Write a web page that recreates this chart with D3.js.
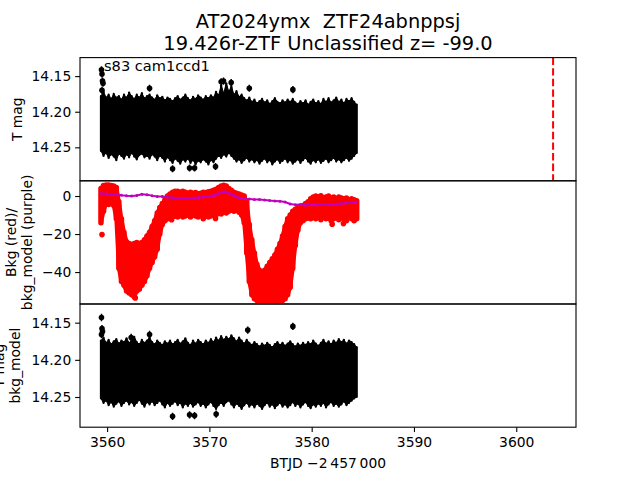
<!DOCTYPE html>
<html><head><meta charset="utf-8">
<script src="https://cdn.jsdelivr.net/npm/d3@7"></script>
<style>
body{margin:0;background:#fff}
svg text{font-family:"DejaVu Sans",sans-serif;fill:#000}
</style>
</head><body>
<svg id="chart" width="640" height="480"></svg>
<script>
// ---------------- DATA ----------------
const titleLines = ["AT2024ymx  ZTF24abnppsj", "19.426r-ZTF Unclassified z= -99.0"];
const sectorLabel = "s83 cam1ccd1";
const xLabel = "BTJD \u22122\u2009457\u2009000";
const xTicks = [3560, 3570, 3580, 3590, 3600];
const magTicks = [14.15, 14.20, 14.25];
const bkgTicks = [0, -20, -40];
const xDomain = [3557.35, 3605.84];
const mag1Domain = [14.124, 14.297];
const bkgDomain = [-56.8, 8.0];
const mag3Domain = [14.1249, 14.2906];
const discoveryTime = 3603.6;

// sampling times of the dense light curve (BTJD)
const tGrid = [3559.40,3559.65,3559.90,3560.15,3560.40,3560.65,3560.90,3561.15,3561.40,3561.65,
3561.90,3562.15,3562.40,3562.65,3562.90,3563.15,3563.40,3563.65,3563.90,3564.15,
3564.40,3564.65,3564.90,3565.15,3565.40,3565.65,3565.90,3566.15,3566.40,3566.65,
3566.90,3567.15,3567.40,3567.65,3567.90,3568.15,3568.40,3568.65,3568.90,3569.15,
3569.40,3569.65,3569.90,3570.15,3570.40,3570.65,3570.90,3571.15,3571.40,3571.65,
3571.90,3572.15,3572.40,3572.65,3572.90,3573.15,3573.40,3573.65,3573.90,3574.15,
3574.40,3574.65,3574.90,3575.15,3575.40,3575.65,3575.90,3576.15,3576.40,3576.65,
3576.90,3577.15,3577.40,3577.65,3577.90,3578.15,3578.40,3578.65,3578.90,3579.15,
3579.40,3579.65,3579.90,3580.15,3580.40,3580.65,3580.90,3581.15,3581.40,3581.65,
3581.90,3582.15,3582.40,3582.65,3582.90,3583.15,3583.40,3583.65,3583.90,3584.15,
3584.40];

// Panel 1: T mag, upper (brightest incl. error) and lower (faintest incl. error) extent
const mag1Top = [14.178,14.172,14.180,14.176,14.182,14.175,14.180,14.178,14.183,14.176,
14.180,14.173,14.178,14.182,14.176,14.180,14.174,14.181,14.178,14.176,
14.180,14.183,14.177,14.181,14.179,14.184,14.180,14.182,14.185,14.181,
14.178,14.183,14.180,14.176,14.181,14.184,14.179,14.182,14.177,14.180,
14.183,14.178,14.181,14.177,14.180,14.172,14.177,14.163,14.174,14.160,
14.172,14.164,14.176,14.171,14.179,14.176,14.181,14.184,14.180,14.186,
14.183,14.188,14.185,14.182,14.187,14.184,14.189,14.185,14.181,14.186,
14.188,14.184,14.187,14.183,14.186,14.182,14.187,14.189,14.185,14.188,
14.184,14.190,14.186,14.183,14.188,14.185,14.189,14.182,14.186,14.181,
14.187,14.184,14.180,14.186,14.183,14.188,14.182,14.185,14.181,14.186,
14.190];
const mag1Bot = [14.255,14.262,14.258,14.265,14.260,14.263,14.268,14.259,14.262,14.266,
14.260,14.264,14.258,14.263,14.267,14.261,14.259,14.264,14.262,14.266,
14.260,14.263,14.268,14.262,14.265,14.270,14.264,14.268,14.272,14.266,
14.269,14.273,14.267,14.270,14.266,14.272,14.268,14.274,14.269,14.271,
14.267,14.270,14.274,14.268,14.271,14.266,14.262,14.265,14.260,14.263,
14.258,14.262,14.266,14.270,14.267,14.272,14.268,14.265,14.270,14.267,
14.271,14.268,14.273,14.269,14.266,14.271,14.268,14.274,14.270,14.267,
14.272,14.269,14.266,14.271,14.268,14.273,14.270,14.267,14.272,14.268,
14.265,14.270,14.273,14.268,14.271,14.267,14.272,14.269,14.266,14.271,
14.268,14.265,14.270,14.267,14.271,14.268,14.265,14.269,14.266,14.262,
14.258];
const out1T = [3559.45,3559.50,3559.55,3559.60,3559.50,3564.15,3571.15,3571.38,3572.13,3573.90,3578.16,3566.40,3568.06,3568.55,3570.60];
const out1M = [14.141,14.147,14.157,14.160,14.170,14.167,14.158,14.157,14.159,14.167,14.169,14.280,14.279,14.279,14.277];

// Panel 2: background flux (red) extent, and background model (purple)
const bkgTop = [4.0,5.5,5.8,5.8,5.5,5.2,4.5,-3,-12,-19,
-24,-25,-25.5,-25,-24.5,-25,-24.5,-23,-21,-19,
-16,-13,-9,-6,-4,-2,0,1,2,2.5,
2.5,2,2.5,2,1.5,2,1.5,1.8,1.2,1.5,
2,1.8,2.2,2.5,3,3.5,4.5,5.2,5.6,5.2,
4,3,2,1.5,1,0.5,0,-3,-15,-23,
-30,-36,-39,-40,-39,-37,-35,-33,-31,-28,
-25,-21,-16,-12,-10,-8,-7,-6,-5.5,-5,
-4,-3,-1.5,-0.5,0,-0.5,0.2,-1,-0.5,0,
-1,-0.5,-1.5,-0.5,-1,-1.5,-1,-2,-1.5,-2,
-2.5];
const bkgBot = [-14,-8,-4,-4.5,-4,-5,-12,-38,-45,-47,
-50,-51,-52,-53,-50,-49,-47,-45,-42,-38,
-35,-32,-28,-20,-15,-13,-12,-11.5,-11,-10.5,
-11,-10,-11,-10.5,-10,-11,-10,-10.5,-11,-10,
-12,-10,-11,-10.5,-9.5,-10,-9,-9.5,-8.5,-9,
-8,-7.5,-8,-7.5,-8.5,-10,-14,-30,-45,-52,
-54,-55,-55,-55,-55,-55,-55,-55,-55,-55,
-55,-55,-54,-52,-48,-38,-26,-18,-14,-13,
-12,-11.5,-12,-11,-12,-11,-12.5,-11,-12,-11.5,
-13,-12,-11,-12.5,-11.5,-12,-13,-11,-12,-13,
-12];
const bkgOutT = [3559.50,3562.75,3566.30,3570.60,3582.00,3583.10];
const bkgOutV = [-20.3,-53.6,-12.5,-11.8,-14.8,-14.5];
const modelT = [3559.4,3559.9,3560.4,3560.9,3561.4,3561.9,3562.4,3562.9,3563.4,3563.9,
3564.4,3564.9,3565.4,3565.9,3566.4,3566.9,3567.4,3567.9,3568.4,3568.9,
3569.4,3569.9,3570.4,3570.9,3571.4,3571.9,3572.4,3572.9,3573.4,3573.9,
3574.4,3574.9,3575.4,3575.9,3576.4,3576.9,3577.4,3577.9,3578.4,3578.9,
3579.4,3579.9,3580.4,3580.9,3581.4,3581.9,3582.4,3582.9,3583.4,3583.9,3584.4];
const modelV = [1.4,1.0,0.6,0.9,0.4,0.1,0.0,0.3,0.9,0.7,
0.2,-0.2,-0.3,-0.6,-0.9,-1.2,-1.0,-1.3,-1.1,-0.8,
-0.5,-0.2,0.3,1.2,2.3,1.6,0.2,-1.0,-1.4,-1.6,
-1.8,-1.9,-2.1,-2.4,-2.6,-2.8,-3.2,-4.2,-4.6,-4.5,
-4.8,-4.6,-4.7,-4.4,-4.5,-4.2,-4.3,-3.9,-3.7,-3.4,-3.2];

// Panel 3: T mag - bkg_model extent
const mag3Top = [14.174,14.170,14.177,14.173,14.179,14.175,14.172,14.178,14.174,14.176,
14.171,14.177,14.174,14.169,14.176,14.179,14.173,14.177,14.174,14.170,
14.176,14.179,14.174,14.177,14.180,14.175,14.178,14.174,14.179,14.176,
14.173,14.178,14.175,14.171,14.177,14.180,14.174,14.178,14.173,14.176,
14.179,14.174,14.177,14.172,14.176,14.170,14.174,14.168,14.173,14.169,
14.172,14.167,14.171,14.175,14.170,14.174,14.178,14.173,14.177,14.180,
14.176,14.179,14.182,14.178,14.181,14.177,14.180,14.183,14.179,14.176,
14.180,14.177,14.181,14.178,14.175,14.179,14.182,14.178,14.181,14.177,
14.180,14.176,14.179,14.174,14.178,14.181,14.177,14.173,14.178,14.175,
14.179,14.174,14.177,14.172,14.176,14.173,14.178,14.174,14.176,14.179,
14.183];
const mag3Bot = [14.252,14.258,14.255,14.261,14.257,14.263,14.259,14.256,14.262,14.258,
14.255,14.260,14.257,14.262,14.258,14.254,14.259,14.263,14.257,14.260,
14.256,14.261,14.258,14.255,14.260,14.264,14.258,14.262,14.259,14.256,
14.261,14.258,14.264,14.259,14.262,14.258,14.263,14.260,14.257,14.262,
14.259,14.264,14.260,14.257,14.262,14.266,14.261,14.258,14.262,14.257,
14.255,14.260,14.264,14.259,14.262,14.266,14.261,14.258,14.263,14.260,
14.264,14.259,14.262,14.266,14.261,14.258,14.263,14.260,14.265,14.261,
14.258,14.263,14.260,14.264,14.261,14.257,14.262,14.259,14.264,14.260,
14.257,14.262,14.265,14.260,14.263,14.259,14.262,14.258,14.264,14.260,
14.257,14.262,14.259,14.263,14.260,14.256,14.261,14.258,14.255,14.252,
14.250];
const out3T = [3559.45,3559.50,3559.55,3559.45,3562.35,3564.15,3573.75,3578.16,3566.40,3568.06,3568.55,3570.66];
const out3M = [14.143,14.158,14.162,14.166,14.170,14.166,14.160,14.155,14.276,14.274,14.275,14.273];
const outErr = 0.005;

// ---------------- LAYOUT ----------------
const L = 80, R = 576;
const panels = [[57.6, 180.8], [180.8, 304], [304, 427.2]];
const FS = 13.89;
const svg = d3.select("#chart");

const x = d3.scaleLinear().domain(xDomain).range([L, R]);
const y1 = d3.scaleLinear().domain(mag1Domain).range([panels[0][0], panels[0][1]]);
const y2 = d3.scaleLinear().domain(bkgDomain).range([panels[1][1], panels[1][0]]);
const y3 = d3.scaleLinear().domain(mag3Domain).range([panels[2][0], panels[2][1]]);

const defs = svg.append("defs");
panels.forEach((p, i) => {
  defs.append("clipPath").attr("id", "clip" + i)
    .append("rect").attr("x", L).attr("y", p[0]).attr("width", R - L).attr("height", p[1] - p[0]);
});

function bandArea(y, top, bot) {
  return d3.area().x((d) => x(d)).y0((d, i) => y(top[i])).y1((d, i) => y(bot[i]));
}

function magPanel(idx, y, top, bot, oT, oM) {
  const g = svg.append("g").attr("clip-path", `url(#clip${idx})`);
  g.append("path").datum(tGrid).attr("d", bandArea(y, top, bot)).attr("fill", "#000")
    .attr("stroke", "#000").attr("stroke-width", 1);
  g.selectAll("line.band").data(tGrid).join("line")
    .attr("x1", d => x(d)).attr("x2", d => x(d))
    .attr("y1", (d, i) => y(top[i])).attr("y2", (d, i) => y(bot[i]))
    .attr("stroke", "#000").attr("stroke-width", 2.2).attr("stroke-linecap", "round");
  const od = oT.map((t, i) => ({t, m: oM[i]}));
  g.selectAll("line.oe").data(od).join("line")
    .attr("x1", d => x(d.t)).attr("x2", d => x(d.t))
    .attr("y1", d => y(d.m - outErr)).attr("y2", d => y(d.m + outErr))
    .attr("stroke", "#000").attr("stroke-width", 1.5);
  g.selectAll("circle.om").data(od).join("circle")
    .attr("cx", d => x(d.t)).attr("cy", d => y(d.m)).attr("r", 2.8).attr("fill", "#000");
  return g;
}

// Panel 1
const g1 = magPanel(0, y1, mag1Top, mag1Bot, out1T, out1M);
g1.append("line")
  .attr("x1", x(discoveryTime)).attr("x2", x(discoveryTime))
  .attr("y1", panels[0][0]).attr("y2", panels[0][1])
  .attr("stroke", "#ff0000").attr("stroke-width", 2).attr("stroke-dasharray", "7.4,3.2");

// Panel 2
const g2 = svg.append("g").attr("clip-path", "url(#clip1)");
g2.append("path").datum(tGrid).attr("d", bandArea(y2, bkgTop, bkgBot)).attr("fill", "#ff0000")
  .attr("stroke", "#ff0000").attr("stroke-width", 4).attr("stroke-linejoin", "round");
g2.selectAll("line.band").data(tGrid).join("line")
  .attr("x1", d => x(d)).attr("x2", d => x(d))
  .attr("y1", (d, i) => y2(bkgTop[i])).attr("y2", (d, i) => y2(bkgBot[i]))
  .attr("stroke", "#ff0000").attr("stroke-width", 5.5).attr("stroke-linecap", "round");
g2.selectAll("circle.bo").data(bkgOutT).join("circle")
  .attr("cx", d => x(d)).attr("cy", (d, i) => y2(bkgOutV[i])).attr("r", 2.8).attr("fill", "#ff0000");
const modelData = modelT.map((t, i) => [t, modelV[i]]);
g2.append("path").datum(modelData)
  .attr("d", d3.line().x(d => x(d[0])).y(d => y2(d[1])))
  .attr("fill", "none").attr("stroke", "#bf00bf").attr("stroke-width", 2);
g2.selectAll("circle.md").data(modelData).join("circle")
  .attr("cx", d => x(d[0])).attr("cy", d => y2(d[1])).attr("r", 1.5).attr("fill", "#bf00bf");

// Panel 3
magPanel(2, y3, mag3Top, mag3Bot, out3T, out3M);

// Frames
panels.forEach(p => {
  svg.append("rect").attr("x", L).attr("y", p[0]).attr("width", R - L).attr("height", p[1] - p[0])
    .attr("fill", "none").attr("stroke", "#000").attr("stroke-width", 1.1);
});

// Axes
function styleAxis(g) {
  g.select(".domain").remove();
  g.selectAll("text").attr("font-size", FS).attr("font-family", "DejaVu Sans").attr("fill", "#000");
  g.selectAll("line").attr("stroke", "#000").attr("stroke-width", 1.1);
}
const TL = 4.86;
svg.append("g").attr("transform", `translate(${L},0)`)
  .call(d3.axisLeft(y1).tickValues(magTicks).tickFormat(d3.format(".2f")).tickSize(TL).tickPadding(TL - 1))
  .call(styleAxis);
svg.append("g").attr("transform", `translate(${L},0)`)
  .call(d3.axisLeft(y2).tickValues(bkgTicks).tickFormat(d3.format("d")).tickSize(TL).tickPadding(TL - 1))
  .call(styleAxis);
svg.append("g").attr("transform", `translate(${L},0)`)
  .call(d3.axisLeft(y3).tickValues(magTicks).tickFormat(d3.format(".2f")).tickSize(TL).tickPadding(TL - 1))
  .call(styleAxis);
svg.append("g").attr("transform", `translate(0,${panels[2][1]})`)
  .call(d3.axisBottom(x).tickValues(xTicks).tickFormat(d3.format("d")).tickSize(TL).tickPadding(TL))
  .call(styleAxis);

// Texts
const cx = (L + R) / 2;
svg.append("text").attr("x", cx).attr("y", 28).attr("text-anchor", "middle")
  .attr("font-size", 19.4).style("white-space", "pre").text(titleLines[0]);
svg.append("text").attr("x", cx).attr("y", 49.5).attr("text-anchor", "middle")
  .attr("font-size", 19.4).style("white-space", "pre").text(titleLines[1]);
svg.append("text").attr("x", 104).attr("y", 70.5).attr("font-size", 14.6).text(sectorLabel);
svg.append("text").attr("x", cx).attr("y", 468).attr("text-anchor", "middle")
  .attr("font-size", FS).text(xLabel);

function yLabel(lines, xs, yc) {
  lines.forEach((s, i) => {
    svg.append("text").attr("transform", `translate(${xs[i]},${yc}) rotate(-90)`)
      .attr("text-anchor", "middle").attr("font-size", FS).text(s);
  });
}
yLabel(["T mag"], [22], (panels[0][0] + panels[0][1]) / 2);
yLabel(["Bkg (red)/", "bkg_model (purple)"], [16, 32], (panels[1][0] + panels[1][1]) / 2);
yLabel(["T mag", "bkg_model"], [4, 20], (panels[2][0] + panels[2][1]) / 2);
</script>
</body></html>
